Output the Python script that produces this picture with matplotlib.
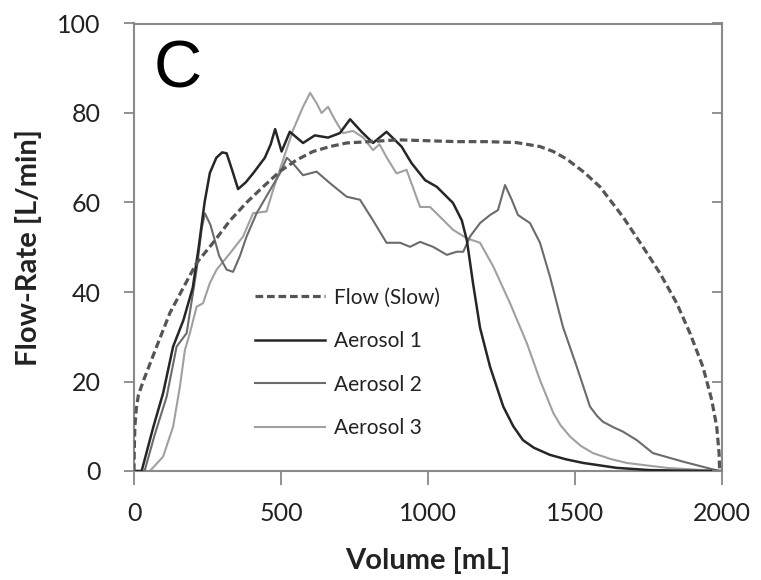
import matplotlib
matplotlib.use("Agg")
import matplotlib.pyplot as plt

plt.rcParams['font.family'] = ['Lato', 'DejaVu Sans']

flow_x = [0, 1, 3, 8, 15, 31, 77, 122, 168, 213, 269, 327, 383, 439, 497, 553, 609, 667, 723, 800, 900, 1000,
          1100, 1200, 1300, 1381, 1426, 1472, 1530, 1585, 1663, 1731, 1789, 1846, 1891, 1935, 1965, 1982, 1990, 1992]
flow_y = [0, 5, 10, 14, 17, 20, 27.8, 35.3, 41, 46.5, 51, 56, 60, 63.5, 67, 69.5, 71.4, 72.5, 73.3, 73.6, 74, 73.8,
          73.6, 73.6, 73.4, 72.5, 71.4, 69.7, 66.8, 63.5, 56.8, 50.1, 44.2, 37.5, 30.8, 23.3, 15.9, 9.9, 4, 0]

a1_x = [0, 26, 66, 99, 133, 168, 200, 220, 240, 258, 280, 300, 315, 335, 354, 380, 405, 445, 465, 480, 502, 530,
        575, 615, 660, 700, 735, 774, 813, 859, 910, 944, 990, 1030, 1085, 1115, 1132, 1140, 1153, 1177, 1211, 1256,
        1290, 1323, 1360, 1415, 1470, 1528, 1642, 1755, 1900, 2000]
a1_y = [0, 0, 9.9, 17.4, 27.8, 33.7, 41, 50, 60, 66.6, 70, 71.2, 71, 67, 63, 64.5, 66.5, 70, 73, 76.4, 71.4, 75.8,
        73.3, 75, 74.5, 75.5, 78.6, 75.8, 73.3, 75.8, 72.5, 68.8, 65, 63.5, 59.9, 56, 51.6, 48, 42, 32, 23.3, 14.4,
        10, 6.9, 5.2, 3.6, 2.6, 1.8, 0.7, 0.2, 0.05, 0]

a2_x = [0, 36, 70, 111, 145, 179, 213, 230, 241, 260, 290, 315, 337, 360, 383, 417, 463, 497, 520, 541, 575, 621,
        667, 723, 769, 813, 859, 905, 939, 973, 1017, 1064, 1098, 1120, 1143, 1177, 1211, 1238, 1262, 1285, 1306,
        1347, 1381, 1415, 1459, 1506, 1551, 1575, 1595, 1630, 1663, 1710, 1765, 1867, 1990]
a2_y = [0, 0, 8, 16.6, 27.8, 30.8, 45, 54, 57.6, 55, 48, 45, 44.5, 48, 52.4, 57.6, 62.8, 66.6, 70, 68.7, 66.1, 66.9,
        64.3, 61.3, 60.6, 56, 51, 51, 50.1, 51.2, 50.1, 48.3, 49, 49, 52.4, 55.4, 57.2, 58.3, 63.9, 60.6, 57.2,
        55.4, 51, 43.4, 32.2, 23.3, 14.4, 12.3, 11, 9.8, 8.8, 6.9, 4, 2.1, 0]

a3_x = [0, 54, 99, 133, 156, 173, 190, 213, 235, 258, 281, 327, 371, 405, 451, 473, 507, 541, 575, 599, 621, 638,
        660, 684, 711, 745, 780, 813, 835, 860, 893, 927, 973, 1007, 1041, 1085, 1132, 1177, 1222, 1279, 1336, 1381,
        1426, 1450, 1483, 1520, 1561, 1620, 1676, 1812, 1990]
a3_y = [0, 0, 3.2, 9.9, 18.8, 27, 30.8, 36.7, 37.5, 42, 45, 48.7, 52.4, 57.6, 58, 62.8, 69.5, 76.2, 81.4, 84.5, 82.2,
        80, 81.4, 78.4, 75.5, 76, 74.5, 71.7, 73, 70, 66.5, 67.3, 59, 59, 56.8, 53.9, 52, 51, 45.7, 37.5, 28.6, 20.3,
        13, 10.3, 7.7, 5.6, 4, 2.7, 1.8, 0.7, 0]

x_ticks = [0, 500, 1000, 1500, 2000]
y_ticks = [0, 20, 40, 60, 80, 100]

fig = plt.figure(figsize=(7.61, 5.80), dpi=100)
ax = fig.add_axes([134/761, 109/580, 588/761, 447.5/580])

ax.plot(flow_x, flow_y, color='#555555', lw=2.3, dashes=(2.4, 1.2), label='Flow (Slow)', zorder=5)
ax.plot(a1_x, a1_y, color='#262626', lw=1.8, label='Aerosol 1', zorder=4)
ax.plot(a2_x, a2_y, color='#6b6b6b', lw=1.5, label='Aerosol 2', zorder=3)
ax.plot(a3_x, a3_y, color='#a0a0a0', lw=1.5, label='Aerosol 3', zorder=2)

ax.set_xlim(0, 2000)
ax.set_ylim(0, 100)
ax.set_xticks(x_ticks)
ax.set_yticks(y_ticks)
ax.tick_params(axis='both', labelsize=18, colors='#888888', labelcolor='#222222', width=1.3, direction='out')
ax.tick_params(axis='x', length=10, pad=12)
ax.tick_params(axis='y', length=7, pad=17)
for s in ax.spines.values():
    s.set_color('#8a8a8a')
    s.set_linewidth(1.5)

# inward ticks on the right-hand spine
ax2 = ax.twinx()
ax2.set_ylim(0, 100)
ax2.set_yticks(y_ticks)
ax2.tick_params(axis='y', direction='in', length=7, width=1.3, colors='#888888', labelright=False)
for s in ax2.spines.values():
    s.set_visible(False)

ax.set_xlabel('Volume [mL]', fontsize=21, fontweight='bold', color='#222222', labelpad=16)
ax.set_ylabel('Flow-Rate [L/min]', fontsize=21, fontweight='bold', color='#222222', labelpad=11)

ax.text(0.033, 0.856, 'C', transform=ax.transAxes, fontsize=48, family='Liberation Sans',
        va='baseline', ha='left', color='black')

leg = ax.legend(loc='upper left', bbox_to_anchor=(0.205, 0.41), frameon=False, fontsize=15,
                handlelength=3.4, handletextpad=0.4, labelspacing=1.13, borderpad=0, borderaxespad=0)
for txt in leg.get_texts():
    txt.set_color('#222222')

fig.savefig('out.png', dpi=100)
